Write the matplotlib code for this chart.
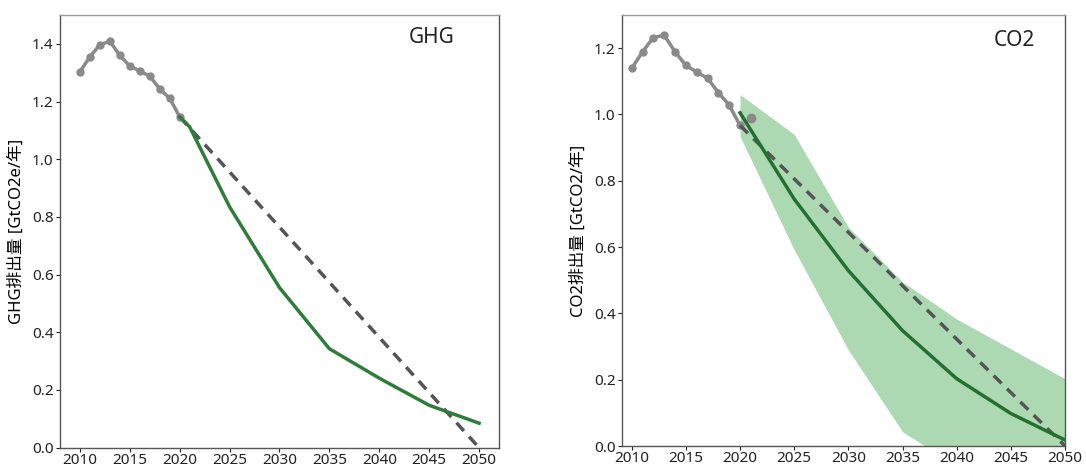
import numpy as np
import matplotlib
matplotlib.use('Agg')
import matplotlib.pyplot as plt

plt.rcParams['font.family'] = ['Noto Sans', 'Noto Sans CJK JP']

# ---- data ----
hist_years = list(range(2010, 2021))
ghg_hist = [1.303, 1.355, 1.397, 1.409, 1.360, 1.323, 1.306, 1.288, 1.244, 1.211, 1.147]
co2_hist = [1.139, 1.189, 1.232, 1.239, 1.189, 1.148, 1.128, 1.109, 1.066, 1.028, 0.967]

ghg_path_years = [2020, 2021, 2025, 2030, 2035, 2040, 2045, 2050]
ghg_path = [1.147, 1.112, 0.835, 0.555, 0.343, 0.241, 0.147, 0.085]

co2_path_years = [2020, 2025, 2030, 2035, 2040, 2045, 2050]
co2_path = [1.005, 0.745, 0.529, 0.348, 0.203, 0.098, 0.018]
co2_upper = [1.060, 0.940, 0.660, 0.495, 0.383, 0.293, 0.203]
co2_lower = [0.934, 0.592, 0.290, 0.043, -0.060, -0.120, -0.180]

co2_2021_year = [2021]
co2_2021 = [0.990]

linear_years = [2020, 2050]
ghg_linear = [1.147, 0.0]
co2_linear = [0.967, 0.0]

gray = '#8a8a8a'
dash_col = '#555558'
spine_col = '#555555'

fig = plt.figure(figsize=(10.86, 4.66), dpi=100)
ax1 = fig.add_axes([0.0552, 0.0393, 0.4043, 0.9285])
ax2 = fig.add_axes([0.5727, 0.0429, 0.4080, 0.9249])

# ---- GHG panel ----
ax1.plot(hist_years, ghg_hist, color=gray, lw=2.5, marker='o', ms=5, zorder=3)
ax1.plot(linear_years, ghg_linear, color=dash_col, lw=2.5, ls=(0, (3.2, 2.2)), zorder=2)
ax1.plot(ghg_path_years, ghg_path, color='#2e7d3a', lw=2.5, zorder=4)
ax1.set_xlim(2008, 2052)
ax1.set_ylim(0, 1.5)
ax1.set_yticks(np.arange(0, 1.41, 0.2))
ax1.set_ylabel('GHG排出量 [GtCO2e/年]', fontsize=12, labelpad=5)
ax1.text(0.847, 0.947, 'GHG', transform=ax1.transAxes, fontsize=15,
         ha='center', va='center', color='#222222')

# ---- CO2 panel ----
ax2.fill_between(co2_path_years, co2_lower, co2_upper, color='#acd9b1', lw=0, zorder=1)
ax2.plot(hist_years, co2_hist, color=gray, lw=2.5, marker='o', ms=5, zorder=3)
ax2.plot(co2_2021_year, co2_2021, color=gray, marker='o', ms=6, ls='none', zorder=3)
ax2.plot(linear_years, co2_linear, color=dash_col, lw=2.5, ls=(0, (3.2, 2.2)), zorder=4)
ax2.plot(co2_path_years, co2_path, color='#237030', lw=2.5, zorder=5)
ax2.set_xlim(2009.1, 2050)
ax2.set_ylim(0, 1.3)
ax2.set_yticks(np.arange(0, 1.21, 0.2))
ax2.set_ylabel('CO2排出量 [GtCO2/年]', fontsize=12, labelpad=5)
ax2.text(0.885, 0.94, 'CO2', transform=ax2.transAxes, fontsize=15,
         ha='center', va='center', color='#222222')

for ax in (ax1, ax2):
    ax.set_xticks(range(2010, 2051, 5))
    ax.yaxis.set_major_formatter(matplotlib.ticker.FormatStrFormatter('%.1f'))
    ax.tick_params(labelsize=11, length=3, width=0.8, colors='#222222', pad=1.5)
    ax.tick_params(axis='x', pad=0.5)
    for s in ax.spines.values():
        s.set_color(spine_col)
        s.set_linewidth(1.0)
    ax.spines['top'].set_color('#999999')

fig.savefig('out.png', dpi=100)
